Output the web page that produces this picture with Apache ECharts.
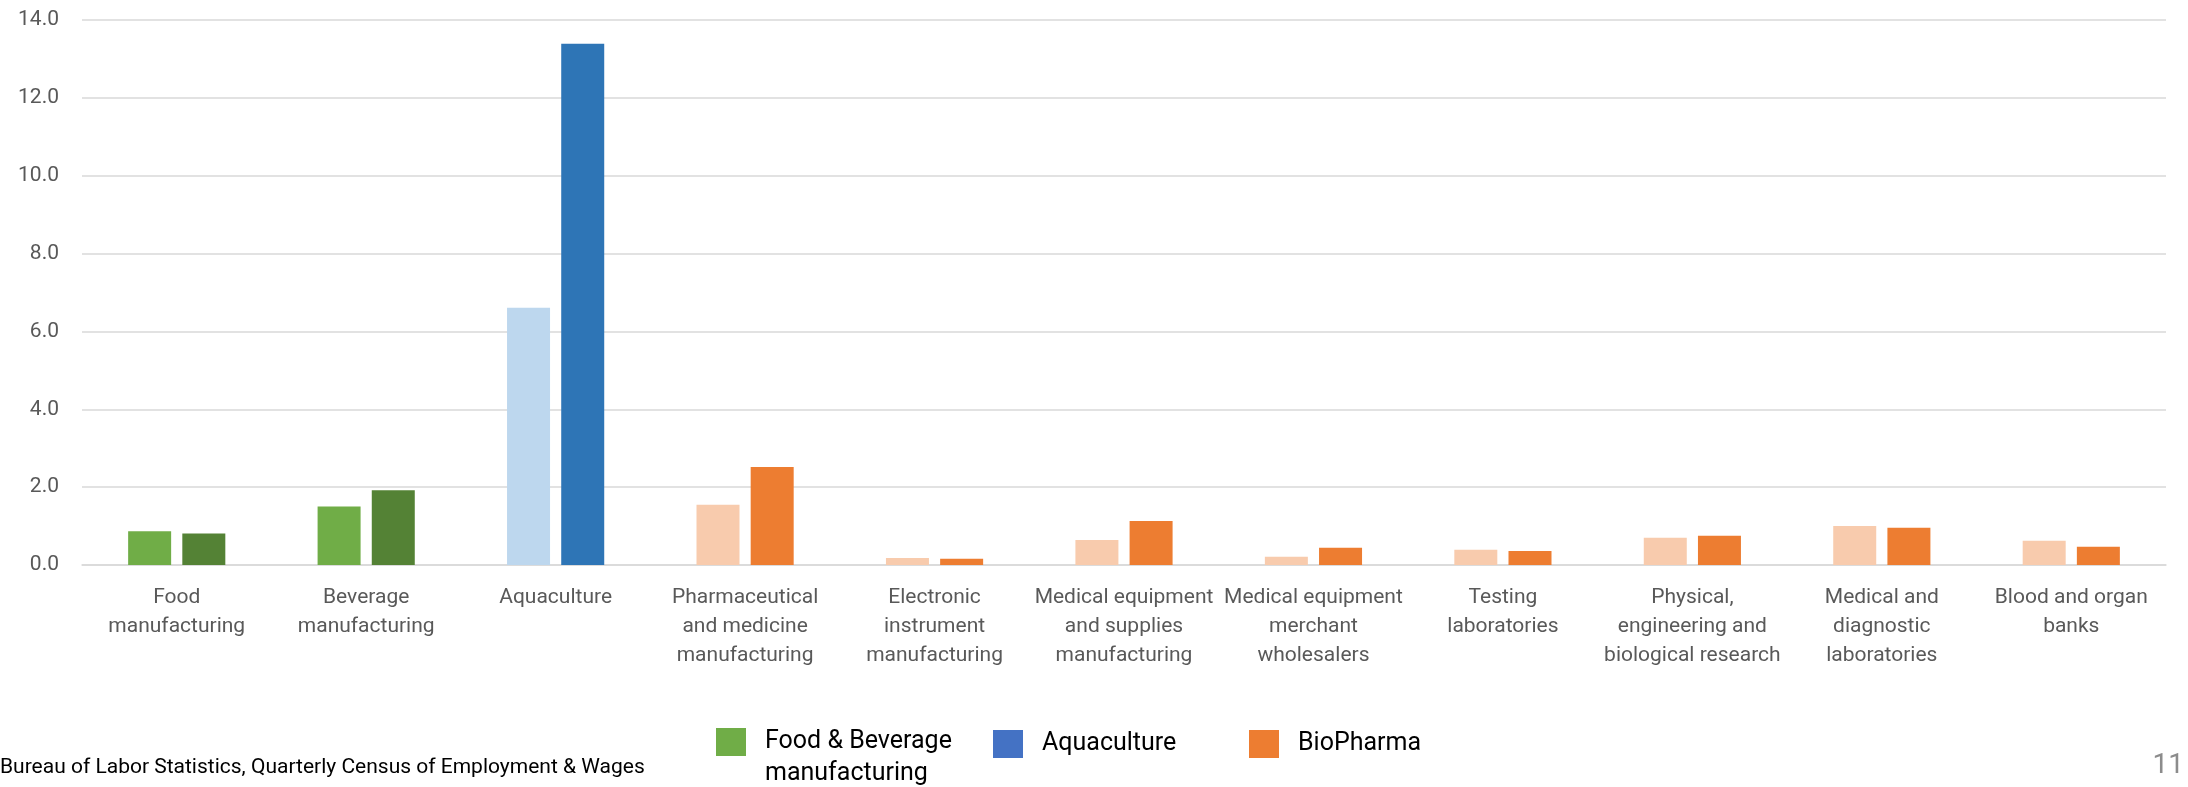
<!DOCTYPE html>
<html>
<head>
<meta charset="utf-8">
<title>Industry comparison</title>
<script src="https://cdn.jsdelivr.net/npm/echarts@6/dist/echarts.min.js"></script>
<style>
  html, body { margin: 0; padding: 0; background: #fff; }
  #chart { width: 2188px; height: 787px; }
</style>
</head>
<body>
<div id="chart"></div>
<script>
// Data
const categories = [
  "Food\nmanufacturing",
  "Beverage\nmanufacturing",
  "Aquaculture",
  "Pharmaceutical\nand medicine\nmanufacturing",
  "Electronic\ninstrument\nmanufacturing",
  "Medical equipment\nand supplies\nmanufacturing",
  "Medical equipment\nmerchant\nwholesalers",
  "Testing\nlaboratories",
  "Physical,\nengineering and\nbiological research",
  "Medical and\ndiagnostic\nlaboratories",
  "Blood and organ\nbanks"
];
const groups = ["food", "food", "aqua", "bio", "bio", "bio", "bio", "bio", "bio", "bio", "bio"];
const lightValues = [0.87, 1.50, 6.61, 1.55, 0.18, 0.64, 0.21, 0.39, 0.70, 1.00, 0.62];
const darkValues = [0.81, 1.92, 13.39, 2.52, 0.16, 1.13, 0.44, 0.36, 0.75, 0.96, 0.47];
const legendNames = ["Food & Beverage\nmanufacturing", "Aquaculture", "BioPharma"];
const yTicks = { min: 0, max: 14, interval: 2 };
const sourceNote = "Bureau of Labor Statistics, Quarterly Census of Employment & Wages";
const pageNumber = "11";

const lightColors = { food: "#70ad47", aqua: "#bdd7ee", bio: "#f8cbad" };
const darkColors = { food: "#548235", aqua: "#2e75b6", bio: "#ed7d31" };
const legendColors = ["#70ad47", "#4472c4", "#ed7d31"];
const fontFamily = "Roboto, 'Liberation Sans', sans-serif";

const chart = echarts.init(document.getElementById("chart"), null, { renderer: "canvas" });

function colored(values, palette) {
  return values.map((v, i) => ({ value: v, itemStyle: { color: palette[groups[i]] } }));
}

const legendLefts = [716, 993, 1249];

chart.setOption({
  animation: false,
  backgroundColor: "#ffffff",
  textStyle: { fontFamily: fontFamily },
  grid: { left: 82, right: 22, top: 20, bottom: 222 },
  xAxis: {
    type: "category",
    data: categories,
    axisLine: { lineStyle: { color: "#d9d9d9", width: 1.5 } },
    axisTick: { show: false },
    axisLabel: {
      interval: 0,
      color: "#595959",
      fontSize: 21,
      lineHeight: 29,
      margin: 18,
      fontFamily: fontFamily
    }
  },
  yAxis: {
    type: "value",
    min: yTicks.min,
    max: yTicks.max,
    interval: yTicks.interval,
    axisLine: { show: false },
    axisTick: { show: false },
    splitLine: { lineStyle: { color: "#d9d9d9", width: 1.5 } },
    axisLabel: {
      color: "#595959",
      fontSize: 21,
      margin: 23,
      fontFamily: fontFamily,
      formatter: (v) => v.toFixed(1)
    }
  },
  legend: legendNames.map((name, i) => ({
    data: [name],
    left: legendLefts[i],
    top: i === 0 ? 694 : 728,
    padding: 0,
    icon: "rect",
    itemWidth: 30,
    itemHeight: 28,
    selectedMode: false,
    // two-line entry: keep the first line level with the swatch
    formatter: (n) => (n.indexOf("\n") >= 0 ? "\n" + n : n),
    textStyle: {
      color: "#000000",
      fontSize: 25,
      lineHeight: 32,
      fontFamily: fontFamily,
      padding: [0, 0, 0, 14]
    }
  })),
  graphic: [
    {
      type: "text",
      left: 0,
      top: 757,
      style: { text: sourceNote, fill: "#000000", font: "21px " + fontFamily }
    },
    {
      type: "text",
      right: 4,
      top: 752,
      style: { text: pageNumber, fill: "#8c8c8c", font: "28px " + fontFamily }
    }
  ],
  series: [
    {
      name: "Earlier",
      type: "bar",
      barWidth: 43,
      barGap: "26%",
      data: colored(lightValues, lightColors)
    },
    {
      name: "Later",
      type: "bar",
      barWidth: 43,
      barGap: "26%",
      data: colored(darkValues, darkColors)
    },
    // legend-only entries
    ...legendNames.map((name, i) => ({
      name: name,
      type: "scatter",
      data: [],
      itemStyle: { color: legendColors[i], opacity: 1 }
    }))
  ]
});

window.addEventListener("resize", () => chart.resize());
</script>
</body>
</html>
